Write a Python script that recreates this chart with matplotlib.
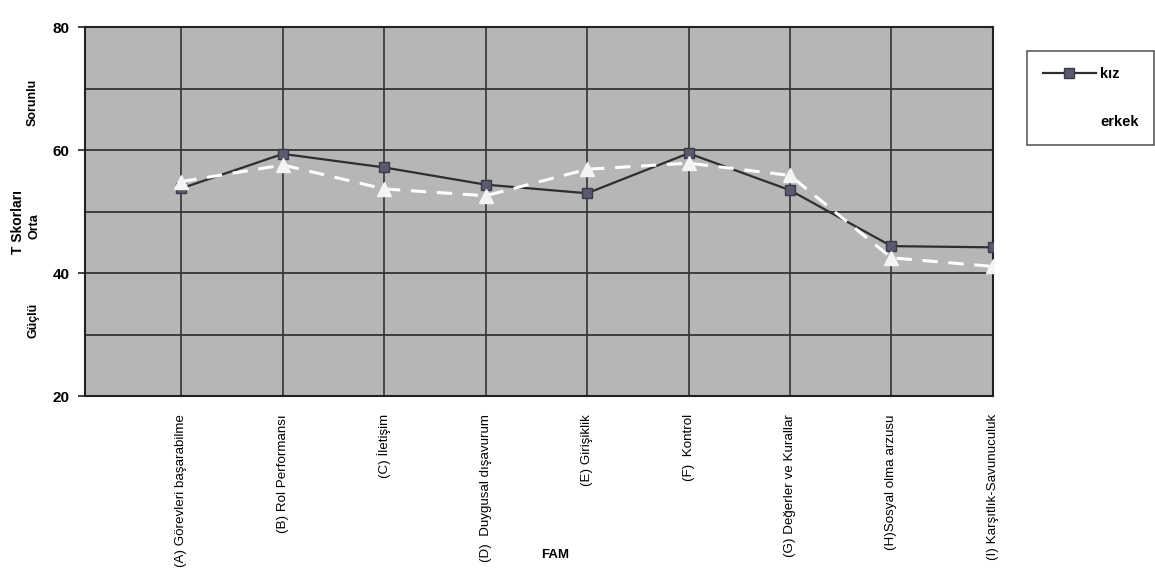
import matplotlib
matplotlib.use("Agg")
import matplotlib.pyplot as plt
from matplotlib.lines import Line2D

plt.rcParams['font.family'] = ['Liberation Sans', 'DejaVu Sans']

categories = ["(A) Görevleri başarabilme", "(B) Rol Performansı", "(C) İletişim",
              "(D)  Duygusal dışavurum", "(E) Girişiklik", "(F)  Kontrol",
              "(G) Değerler ve Kurallar", "(H)Sosyal olma arzusu",
              "(I) Karşıtlık-Savunuculuk"]
kiz = [53.8, 59.4, 57.2, 54.4, 53.0, 59.5, 53.5, 44.4, 44.2]
erkek = [54.9, 57.6, 53.7, 52.6, 56.9, 57.9, 55.9, 42.5, 41.1]
y_ticks = [20, 40, 60, 80]
y_grid = [30, 50, 70]

fig = plt.figure(figsize=(11.55, 5.8), dpi=100)
ax = fig.add_axes([0.0736, 0.317, 0.786, 0.636])
ax.set_facecolor('#b6b6b6')

x = list(range(len(categories)))
ax.plot(x, kiz, color='#2e2e2e', lw=1.6, marker='s', ms=7,
        mfc='#5a5a6e', mec='#3a3a4a', zorder=3, label='kız')
ax.plot(x, erkek, color='white', lw=2.2, ls=(0, (5, 3.5)), marker='^', ms=10,
        mfc='#f4f4f4', mec='#f4f4f4', zorder=4, label='erkek')

ax.set_xlim(-0.95, len(categories) - 1)
ax.set_ylim(20, 80)
ax.set_yticks(y_ticks)
ax.set_yticks(y_grid, minor=True)
ax.set_yticklabels([str(v) for v in y_ticks], fontsize=11, fontweight='bold')
ax.tick_params(axis='y', which='major', length=5, width=1.2, color='#222', pad=6)
ax.tick_params(axis='y', which='minor', length=0)
ax.grid(True, axis='y', which='both', color='#333333', lw=1.3)
ax.set_xticks(x)
ax.set_xticklabels(categories, rotation=90, fontsize=9.6, va='top', ha='center')
ax.tick_params(axis='x', length=0, pad=13)
ax.grid(True, axis='x', color='#333333', lw=1.2)
ax.set_axisbelow(True)
for s in ax.spines.values():
    s.set_color('#222222')
    s.set_linewidth(1.5)

# y-axis annotations
fig.text(33 / 1155, 1 - 102 / 580, "Sorunlu", rotation=90, ha='center', va='center',
         fontsize=9, fontweight='bold')
fig.text(18 / 1155, 1 - 222 / 580, "T Skorları", rotation=90, ha='center', va='center',
         fontsize=10, fontweight='bold')
fig.text(34 / 1155, 1 - 226 / 580, "Orta", rotation=90, ha='center', va='center',
         fontsize=9, fontweight='bold')
fig.text(33 / 1155, 1 - 320 / 580, "Güçlü", rotation=90, ha='center', va='center',
         fontsize=9, fontweight='bold')
fig.text(555 / 1155, 1 - 555 / 580, "FAM", ha='center', va='center',
         fontsize=9.5, fontweight='bold')

handles = [Line2D([], [], color='#2e2e2e', lw=1.6, marker='s', ms=7,
                  mfc='#5a5a6e', mec='#3a3a4a'),
           Line2D([], [], color='white', lw=2.2, ls=(0, (5, 3.5)), marker='^', ms=10,
                  mfc='white', mec='white')]
leg = fig.legend(handles, ['kız', 'erkek'], loc='upper left',
                 bbox_to_anchor=(1027 / 1155, 1 - 51 / 580),
                 prop={'size': 10.5, 'weight': 'bold'}, frameon=True, fancybox=False,
                 edgecolor='#333333', handlelength=3.6, labelspacing=2.3,
                 borderpad=1.1, handletextpad=0.3, borderaxespad=0)
leg.get_frame().set_linewidth(1.2)

fig.savefig("out.png", dpi=100, facecolor='white')
